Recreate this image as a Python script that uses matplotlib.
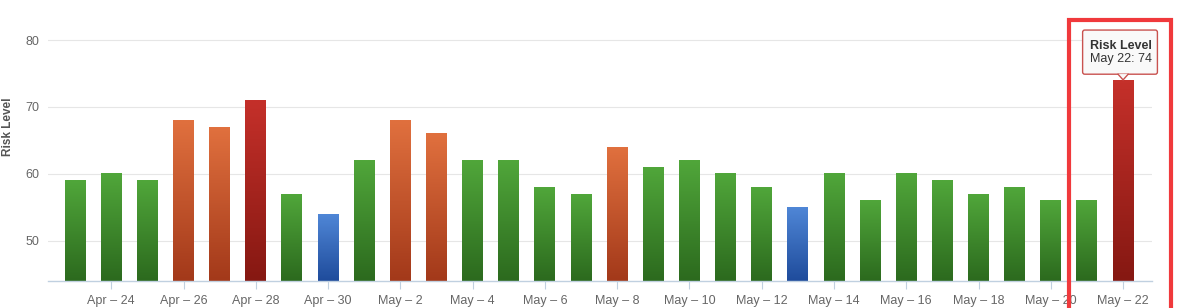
import numpy as np
import matplotlib
matplotlib.use("Agg")
import matplotlib.pyplot as plt
from matplotlib.colors import LinearSegmentedColormap
from matplotlib.patches import Rectangle, Polygon, FancyBboxPatch

plt.rcParams['font.family'] = ['Liberation Sans', 'DejaVu Sans']

# data
dates = ["Apr 23", "Apr 24", "Apr 25", "Apr 26", "Apr 27", "Apr 28", "Apr 29", "Apr 30",
         "May 1", "May 2", "May 3", "May 4", "May 5", "May 6", "May 7", "May 8",
         "May 9", "May 10", "May 11", "May 12", "May 13", "May 14", "May 15", "May 16",
         "May 17", "May 18", "May 19", "May 20", "May 21", "May 22"]
risk = [59, 60, 59, 68, 67, 71, 57, 54, 62, 68, 66, 62, 62, 58, 57, 64,
        61, 62, 60, 58, 55, 60, 56, 60, 59, 57, 58, 56, 56, 74]
tick_labels = [d.replace(" ", " \u2013 ") for d in dates]

# gradient colours (top, bottom)
grad = {
    "blue": ("#4f86d6", "#1f4c9c"),
    "green": ("#50a63a", "#2c6a1e"),
    "orange": ("#e0703e", "#a3391a"),
    "red": ("#c4302a", "#861812"),
}

def level(v):
    if v < 56:
        return "blue"
    if v < 64:
        return "green"
    if v < 70:
        return "orange"
    return "red"

fig = plt.figure(figsize=(12, 3.08), dpi=100)
ax = fig.add_axes([0.04, 0.088, 0.92, 0.847])

ymin, ymax = 44, 83
x = np.arange(len(risk))
w = 0.58

for xi, v in zip(x, risk):
    top, bot = grad[level(v)]
    cmap = LinearSegmentedColormap.from_list("g", [bot, top])
    g = np.linspace(0, 1, 64).reshape(-1, 1)
    ax.imshow(g, cmap=cmap, origin="lower", aspect="auto",
              extent=[xi - w / 2, xi + w / 2, ymin, v], zorder=2)

ax.set_xlim(-0.75, 29.8)
ax.set_ylim(ymin, ymax)
ax.set_yticks([50, 60, 70, 80])
ax.grid(axis="y", color="#e6e6e6", linewidth=0.8, zorder=0)
ax.set_axisbelow(True)

ax.set_xticks(x[1::2])
ax.set_xticklabels(tick_labels[1::2])
ax.tick_params(axis="x", length=6, width=0.8, color="#c0d0e0", labelsize=9,
               labelcolor="#666666", pad=4)
ax.tick_params(axis="y", length=0, labelsize=9, labelcolor="#666666", pad=6)

for s in ["top", "right", "left"]:
    ax.spines[s].set_visible(False)
ax.spines["bottom"].set_color("#c0d0e0")
ax.spines["bottom"].set_linewidth(1)

fig.text(0.002, 0.59, "Risk Level", rotation=90, va="center", ha="left",
         fontsize=8.5, color="#555555", fontweight="bold")

# tooltip for the last bar
last = len(risk) - 1
box_bottom = 74.9
ax.add_patch(FancyBboxPatch((last - 1.12, box_bottom), 2.07, 6.6,
                            boxstyle="round,pad=0,rounding_size=0.06",
                            mutation_aspect=5.4, facecolor="#f9f9f9",
                            edgecolor="#c9524f", linewidth=1, zorder=6, clip_on=False))
ax.add_patch(Polygon([[last - 0.14, box_bottom + 0.02], [last + 0.14, box_bottom + 0.02],
                      [last, risk[last] + 0.05]],
                     closed=True, facecolor="#f9f9f9", edgecolor="none",
                     zorder=7, clip_on=False))
ax.plot([last - 0.14, last, last + 0.14], [box_bottom, risk[last] + 0.05, box_bottom],
        color="#c9524f", linewidth=1, zorder=8, clip_on=False)
ax.text(last - 0.92, 79.1, "Risk Level", ha="left", va="center", fontsize=9,
        fontweight="bold", color="#333333", zorder=9)
ax.text(last - 0.92, 77.2, "May 22: " + str(risk[last]), ha="left", va="center",
        fontsize=9, color="#333333", zorder=9)

# red highlight frame
fig.patches.append(Rectangle((0.891, -0.05), 0.085, 0.985,
                             transform=fig.transFigure, fill=False,
                             edgecolor="#f0393c", linewidth=3))

fig.savefig("out.png", dpi=100)
